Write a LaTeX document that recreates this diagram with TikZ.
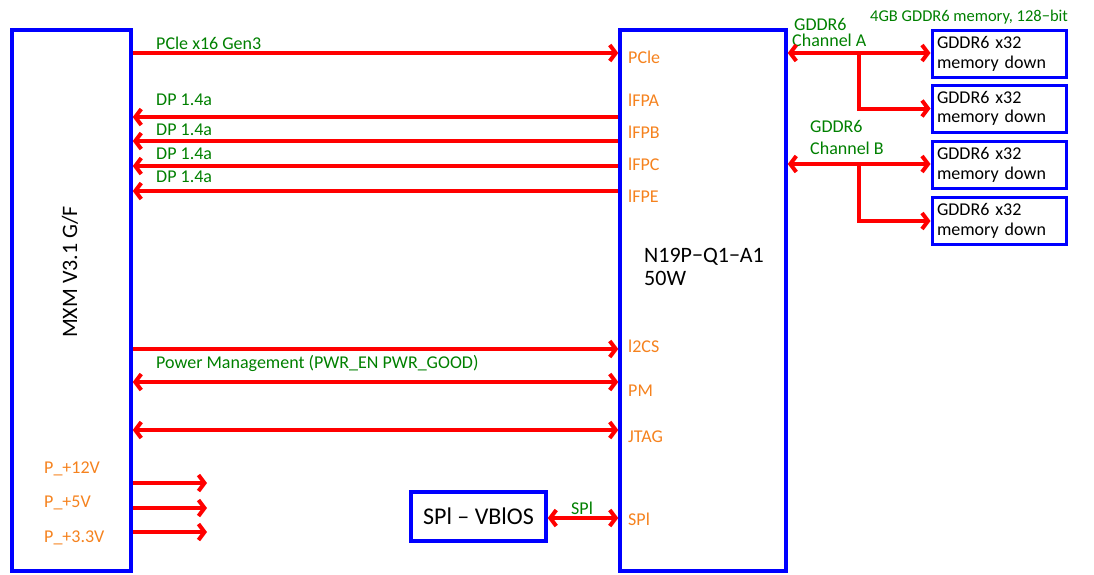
\documentclass[tikz,border=0pt]{standalone}
\usepackage{fontspec}
\setmainfont{Carlito}
\usetikzlibrary{arrows.meta}
\definecolor{gr}{RGB}{0,128,0}
\definecolor{orn}{RGB}{245,130,30}
\definecolor{bl}{RGB}{0,0,255}
\definecolor{rd}{RGB}{255,0,0}
\begin{document}
\begin{tikzpicture}[x=1pt,y=-1pt,
  box/.style={draw=bl,line width=3.5pt,inner sep=0pt},
  membox/.style={draw=bl,line width=3pt,minimum width=134pt,minimum height=47pt,
    text width=124pt,inner xsep=5pt,align=left,font=\fontsize{18}{19.5}\selectfont},
  tipb/.tip={Straight Barb[length=6pt,width=16pt]},
  arr/.style={draw=rd,line width=4pt,-tipb},
  larr/.style={draw=rd,line width=4pt,tipb-},
  darr/.style={draw=rd,line width=4pt,tipb-tipb},
  lbl/.style={text=gr,font=\fontsize{18}{19.5}\selectfont,anchor=west,inner sep=0pt},
  port/.style={text=orn,font=\fontsize{18}{19.5}\selectfont,anchor=west,inner sep=0pt},
]
\useasboundingbox (0,0) rectangle (1094,574);
% boxes
\node[box,minimum width=119pt,minimum height=541pt] (mxm) at (71.5,300.5) {};
\node[rotate=90,font=\fontsize{22}{24}\selectfont] (mxmt) at (70,272) {MXM V3.1 G/F};
\node[box,minimum width=166pt,minimum height=541pt] (gpu) at (703,300.5) {};
\node[anchor=west,align=left,inner sep=0pt,font=\fontsize{22}{23}\selectfont] (gput) at (644,266.5) {N19P−Q1−A1\\50W};
\node[box,minimum width=135pt,minimum height=49pt,font=\fontsize{24}{26}\selectfont] (vbios) at (478.5,516.5) {SPl – VBlOS};
\node[membox] (m1) at (999,54) {GDDR6 x32\\memory down};
\node[membox] (m2) at (999,108.5) {GDDR6 x32\\memory down};
\node[membox] (m3) at (999,165) {GDDR6 x32\\memory down};
\node[membox] (m4) at (999,221) {GDDR6 x32\\memory down};
% port labels
\node[port] (pPCIe) at (628,57) {PCle};
\node[port] (pA) at (628,100) {lFPA};
\node[port] (pB) at (628,132) {lFPB};
\node[port] (pC) at (628,164) {lFPC};
\node[port] (pE) at (628,196) {lFPE};
\node[port] (pI2C) at (628,346) {l2CS};
\node[port] (pPM) at (628,391) {PM};
\node[port] (pJ) at (628,437) {JTAG};
\node[port] (pSPI) at (628,519) {SPl};
\node[port] (v12) at (44,469) {P\_+12V};
\node[port] (v5) at (44,503) {P\_+5V};
\node[port] (v33) at (44,538) {P\_+3.3V};
% green labels
\node[lbl] (lPCIe) at (156,43) {PCle x16 Gen3};
\node[lbl] (lA) at (156,100) {DP 1.4a};
\node[lbl] (lB) at (156,130) {DP 1.4a};
\node[lbl] (lC) at (156,154) {DP 1.4a};
\node[lbl] (lE) at (156,177) {DP 1.4a};
\node[lbl] (lPM) at (156,363) {Power Management (PWR\_EN PWR\_GOOD)};
\node[lbl] (lSPI) at (571,508) {SPl};
\node[lbl,font=\fontsize{16.5}{18}\selectfont] (lmem) at (870,17) {4GB GDDR6 memory, 128−bit};
\node[lbl] (lchA1) at (794,24) {GDDR6};
\node[lbl] (lchA2) at (792,40) {Channel A};
\node[lbl] (lchB1) at (810,126) {GDDR6};
\node[lbl] (lchB2) at (810,148) {Channel B};
% row coordinates
\coordinate (yPCIe) at (0,53);
\coordinate (yA) at (0,117);
\coordinate (yB) at (0,141);
\coordinate (yC) at (0,166);
\coordinate (yE) at (0,191);
\coordinate (yI) at (0,349);
\coordinate (yPM) at (0,382);
\coordinate (yJ) at (0,430);
\coordinate (p12) at (207,483);
\coordinate (p5) at (207,508);
\coordinate (p33) at (207,532);
\coordinate (ySPI) at (0,518);
\coordinate (brA) at (859,53);
\coordinate (brB) at (859,164);
% connectors
\draw[arr] (mxm.east |- yPCIe) -- (gpu.west |- yPCIe);
\draw[larr] (mxm.east |- yA) -- (gpu.west |- yA);
\draw[larr] (mxm.east |- yB) -- (gpu.west |- yB);
\draw[larr] (mxm.east |- yC) -- (gpu.west |- yC);
\draw[larr] (mxm.east |- yE) -- (gpu.west |- yE);
\draw[arr] (mxm.east |- yI) -- (gpu.west |- yI);
\draw[darr] (mxm.east |- yPM) -- (gpu.west |- yPM);
\draw[darr] (mxm.east |- yJ) -- (gpu.west |- yJ);
\draw[arr] (mxm.east |- p12) -- (p12);
\draw[arr] (mxm.east |- p5) -- (p5);
\draw[arr] (mxm.east |- p33) -- (p33);
\draw[darr] (vbios.east |- ySPI) -- (gpu.west |- ySPI);
\draw[darr] (gpu.east |- brA) -- (m1.west |- brA);
\draw[arr] (brA) -- (brA |- m2.west) -- (m2.west);
\draw[darr] (gpu.east |- brB) -- (m3.west |- brB);
\draw[arr] (brB) -- (brB |- m4.west) -- (m4.west);
\end{tikzpicture}
\end{document}
